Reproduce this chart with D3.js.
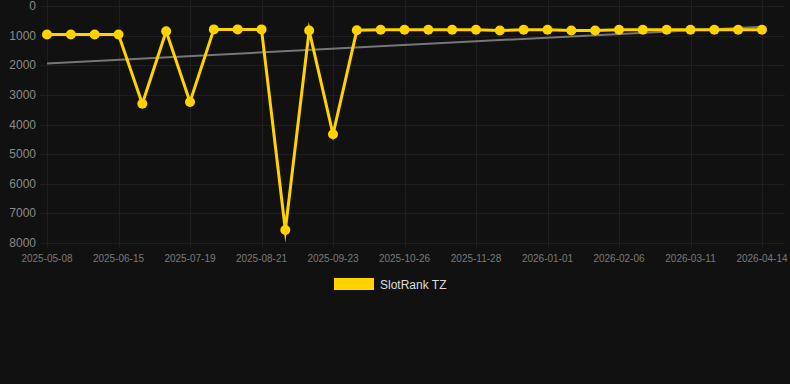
<!DOCTYPE html>
<html lang="en">
<head>
<meta charset="UTF-8">
<title>SlotRank TZ</title>
<script src="https://cdn.jsdelivr.net/npm/d3@7"></script>
<style>
  html, body { margin: 0; padding: 0; background: #111111; }
  svg { display: block; font-family: "Liberation Sans", Arial, sans-serif; }
</style>
</head>
<body>
<div id="container"></div>
<script>
    const width = 790;
    const height = 384;

    // 日期 (category axis)
    const dates = [
        '2025-05-08', '2025-05-21', '2025-06-03', '2025-06-15', '2025-06-26', '2025-07-08',
        '2025-07-19', '2025-07-30', '2025-08-10', '2025-08-21', '2025-09-01', '2025-09-12',
        '2025-09-23', '2025-10-04', '2025-10-15', '2025-10-26', '2025-11-06', '2025-11-17',
        '2025-11-28', '2025-12-10', '2025-12-21', '2026-01-01', '2026-01-13', '2026-01-25',
        '2026-02-06', '2026-02-17', '2026-02-28', '2026-03-11', '2026-03-22', '2026-04-02',
        '2026-04-14'
    ];
    const ranks = [
        960, 960, 960, 965, 3300, 850, 3240, 790, 790, 790, 7560, 830,
        4330, 820, 800, 800, 800, 800, 800, 830, 800, 800, 830, 830,
        800, 800, 800, 800, 800, 800, 800
    ];
    const yTicks = [0, 1000, 2000, 3000, 4000, 5000, 6000, 7000, 8000];
    const seriesName = 'SlotRank TZ';

    const x = d3.scalePoint().domain(d3.range(dates.length)).range([47, 762]);
    const y = d3.scaleLinear().domain([0, 8000]).range([6, 243]);

    const svg = d3.select('#container').append('svg')
        .attr('width', width)
        .attr('height', height);

    svg.append('rect').attr('width', width).attr('height', height).attr('fill', '#111111');

    // 网格
    const grid = svg.append('g');
    grid.selectAll('line.h').data(yTicks).join('line')
        .attr('x1', 40).attr('x2', 785)
        .attr('y1', d => Math.round(y(d)) + 0.5).attr('y2', d => Math.round(y(d)) + 0.5)
        .attr('stroke', '#1e1e1e').attr('stroke-width', 1);

    const labelIdx = d3.range(0, dates.length, 3);
    grid.selectAll('line.v').data(labelIdx).join('line')
        .attr('x1', i => Math.round(x(i)) + 0.5).attr('x2', i => Math.round(x(i)) + 0.5)
        .attr('y1', 0).attr('y2', 248)
        .attr('stroke', '#1e1e1e').attr('stroke-width', 1);

    // y axis labels
    svg.append('g').selectAll('text').data(yTicks).join('text')
        .attr('x', 36).attr('y', d => y(d) + 4)
        .attr('text-anchor', 'end')
        .attr('font-size', 12)
        .attr('fill', '#8a8a8a')
        .text(d => d);

    // x axis labels
    svg.append('g').selectAll('text').data(labelIdx).join('text')
        .attr('x', i => x(i)).attr('y', 262)
        .attr('text-anchor', 'middle')
        .attr('font-size', 10)
        .attr('fill', '#7a7a7a')
        .text(i => dates[i]);

    // 趋势线 (linear regression)
    const n = ranks.length;
    const mx = d3.mean(d3.range(n));
    const my = d3.mean(ranks);
    const sxy = d3.sum(ranks, (v, i) => (i - mx) * (v - my));
    const sxx = d3.sum(d3.range(n), i => (i - mx) * (i - mx));
    const slope = sxy / sxx;
    const icpt = my - slope * mx;
    svg.append('line')
        .attr('x1', x(0)).attr('y1', y(icpt))
        .attr('x2', x(n - 1)).attr('y2', y(icpt + slope * (n - 1)))
        .attr('stroke', '#777777').attr('stroke-width', 2);

    // 折线
    const line = d3.line()
        .x((d, i) => x(i))
        .y(d => y(d));

    svg.append('path')
        .datum(ranks)
        .attr('fill', 'none')
        .attr('stroke', '#ffd200')
        .attr('stroke-width', 3)
        .attr('stroke-linejoin', 'miter')
        .attr('stroke-miterlimit', 10)
        .attr('d', line);

    // 折线圆点
    svg.append('g').selectAll('circle').data(ranks).join('circle')
        .attr('cx', (d, i) => x(i))
        .attr('cy', d => y(d))
        .attr('r', 5)
        .attr('fill', '#ffd200');

    // legend
    svg.append('rect')
        .attr('x', 334).attr('y', 278).attr('width', 40).attr('height', 12)
        .attr('fill', '#ffd200');
    svg.append('text')
        .attr('x', 380).attr('y', 289)
        .attr('font-size', 12)
        .attr('fill', '#dddddd')
        .text(seriesName);
</script>
</body>
</html>
